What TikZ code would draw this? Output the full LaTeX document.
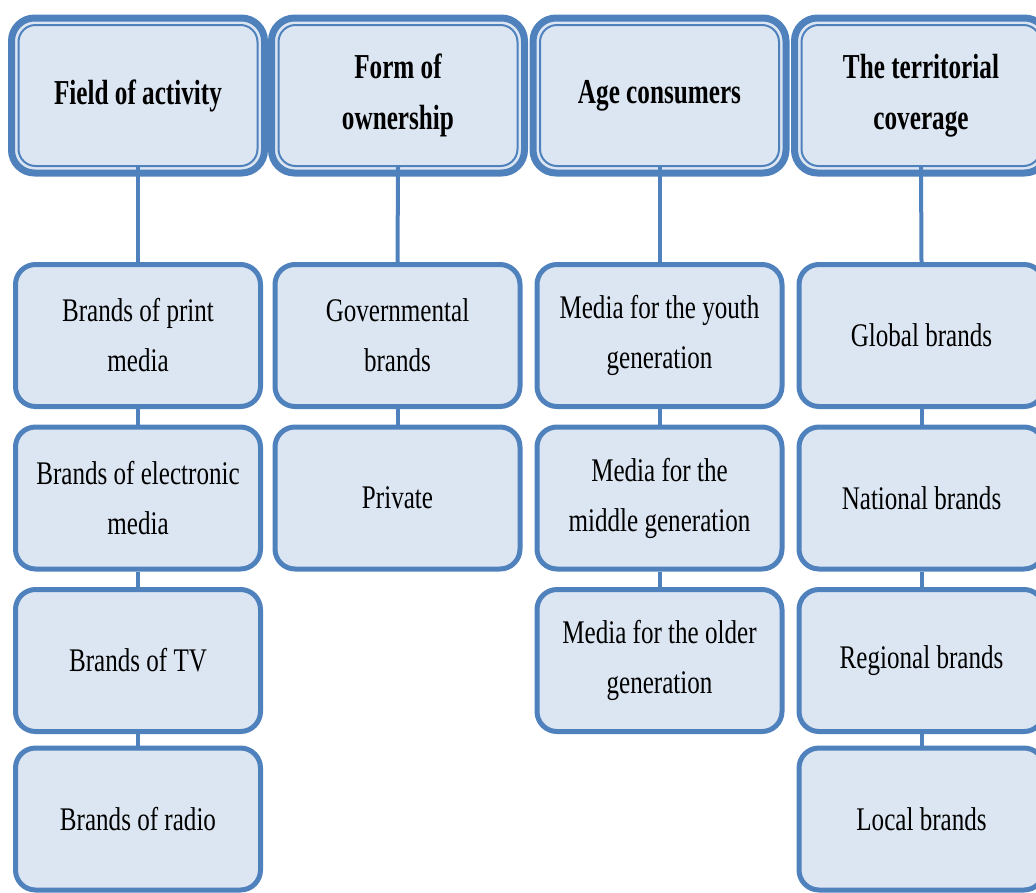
\documentclass[tikz,border=0pt]{standalone}
\usepackage{fontspec}
\setmainfont{Liberation Serif}[FakeStretch=0.76, BoldFeatures={FakeStretch=0.72}]
\usetikzlibrary{backgrounds}
\definecolor{bblue}{HTML}{4F81BD}
\definecolor{bfill}{HTML}{DCE6F2}
\tikzset{
  x=1pt, y=-1pt,
  headbox/.style={draw=bblue, line width=2pt, fill=bfill, rounded corners=17pt,
    minimum width=239pt, minimum height=141pt, inner sep=0pt, align=center,
    font=\fontsize{35}{51}\selectfont\bfseries},
  headout/.style={draw=bblue, line width=7pt, fill=bfill, rounded corners=23pt},
  itembox/.style={draw=bblue, line width=5pt, fill=bfill, rounded corners=20pt,
    minimum width=245pt, minimum height=142pt, inner sep=0pt, align=center,
    font=\fontsize{33}{50}\selectfont},
  conn/.style={draw=bblue, line width=4pt}
}
\begin{document}
\begin{tikzpicture}
\useasboundingbox (0,0) rectangle (1036,892);
% headers
\node[headbox] (h1) at (138,95.5) {\raisebox{-3pt}{Field of activity}};
\node[headbox] (h2) at (398,95.5) {Form of\\ownership};
\node[headbox] (h3) at (659.5,95.5) {\raisebox{-3pt}{Age consumers}};
\node[headbox] (h4) at (921,95.5) {The territorial\\coverage};
% column 1
\node[itembox] (a1) at (138,335.5) {Brands of print\\media};
\node[itembox] (a2) at (138,498) {Brands of electronic\\media};
\node[itembox] (a3) at (138,660.5) {Brands of TV};
\node[itembox] (a4) at (138,819) {Brands of radio};
% column 2
\node[itembox] (b1) at (397.5,335.5) {Governmental\\brands};
\node[itembox] (b2) at (397.5,498) {Private};
% column 3
\node[itembox] (c1) at (659.5,335.5) {Media for the youth\\generation};
\node[itembox] (c2) at (659.5,498) {Media for the\\middle generation};
\node[itembox] (c3) at (659.5,660.5) {Media for the older\\generation};
% column 4
\node[itembox] (d1) at (921.5,335.5) {Global brands};
\node[itembox] (d2) at (921.5,498) {National brands};
\node[itembox] (d3) at (921.5,660.5) {Regional brands};
\node[itembox] (d4) at (921.5,819) {Local brands};
\begin{scope}[on background layer]
  \foreach \h in {h1,h2,h3,h4}{
    \draw[headout] ([xshift=-6pt,yshift=6pt]\h.north west) rectangle ([xshift=6pt,yshift=-6pt]\h.south east);
  }
  \draw[conn] (h1.south) -- (a1.north);
  \draw[conn] (a1.south) -- (a2.north);
  \draw[conn] (a2.south) -- (a3.north);
  \draw[conn] (a3.south) -- (a4.north);
  \draw[conn] (h2.south) -- (b1.north);
  \draw[conn] (b1.south) -- (b2.north);
  \draw[conn] (h3.south) -- (c1.north);
  \draw[conn] (c1.south) -- (c2.north);
  \draw[conn] (c2.south) -- (c3.north);
  \draw[conn] (h4.south) -- (d1.north);
  \draw[conn] (d1.south) -- (d2.north);
  \draw[conn] (d2.south) -- (d3.north);
  \draw[conn] (d3.south) -- (d4.north);
\end{scope}
\end{tikzpicture}
\end{document}
